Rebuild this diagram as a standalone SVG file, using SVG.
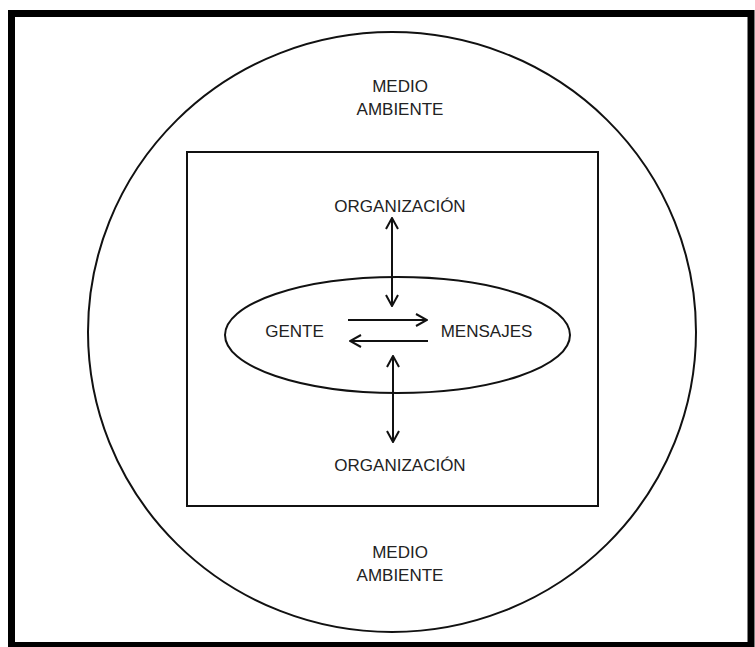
<svg xmlns="http://www.w3.org/2000/svg" width="755" height="647" viewBox="0 0 755 647">
<defs>
<style>
.t{font-family:"Liberation Sans","Open Sans",Arial,sans-serif;font-size:17px;fill:#222;text-anchor:middle}
.ln{stroke:#111;stroke-width:2;fill:none}
</style>
<marker id="ah" viewBox="0 0 14 14" refX="13" refY="7" markerWidth="14" markerHeight="14" markerUnits="userSpaceOnUse" orient="auto-start-reverse">
<path d="M2,1 L13,7 L2,13" fill="none" stroke="#111" stroke-width="2"/>
</marker>
</defs>
<rect width="755" height="647" fill="#fff"/>
<rect x="11.5" y="13.5" width="739.5" height="632" fill="none" stroke="#000" stroke-width="7"/>
<g id="medio-ambiente">
<ellipse cx="392" cy="332" rx="304" ry="300" fill="none" stroke="#111" stroke-width="2"/>
<text class="t" x="400" y="92">MEDIO</text>
<text class="t" x="400" y="115">AMBIENTE</text>
<text class="t" x="400" y="558">MEDIO</text>
<text class="t" x="400" y="581">AMBIENTE</text>
</g>
<g id="organizacion">
<rect x="187" y="152" width="411" height="354" fill="none" stroke="#111" stroke-width="2"/>
<text class="t" x="400" y="212">ORGANIZACIÓN</text>
<text class="t" x="400" y="471">ORGANIZACIÓN</text>
</g>
<g id="gente-mensajes">
<ellipse cx="397.5" cy="335" rx="172.5" ry="58" fill="none" stroke="#111" stroke-width="2"/>
<text class="t" x="294.5" y="337">GENTE</text>
<text class="t" x="486.5" y="337">MENSAJES</text>
</g>
<g id="connectors">
<line class="ln" x1="392" y1="218" x2="392" y2="306" marker-start="url(#ah)" marker-end="url(#ah)"/>
<line class="ln" x1="393" y1="356" x2="393" y2="442" marker-start="url(#ah)" marker-end="url(#ah)"/>
<line class="ln" x1="348" y1="320" x2="427" y2="320" marker-end="url(#ah)"/>
<line class="ln" x1="428" y1="341" x2="350" y2="341" marker-end="url(#ah)"/>
</g>
</svg>
